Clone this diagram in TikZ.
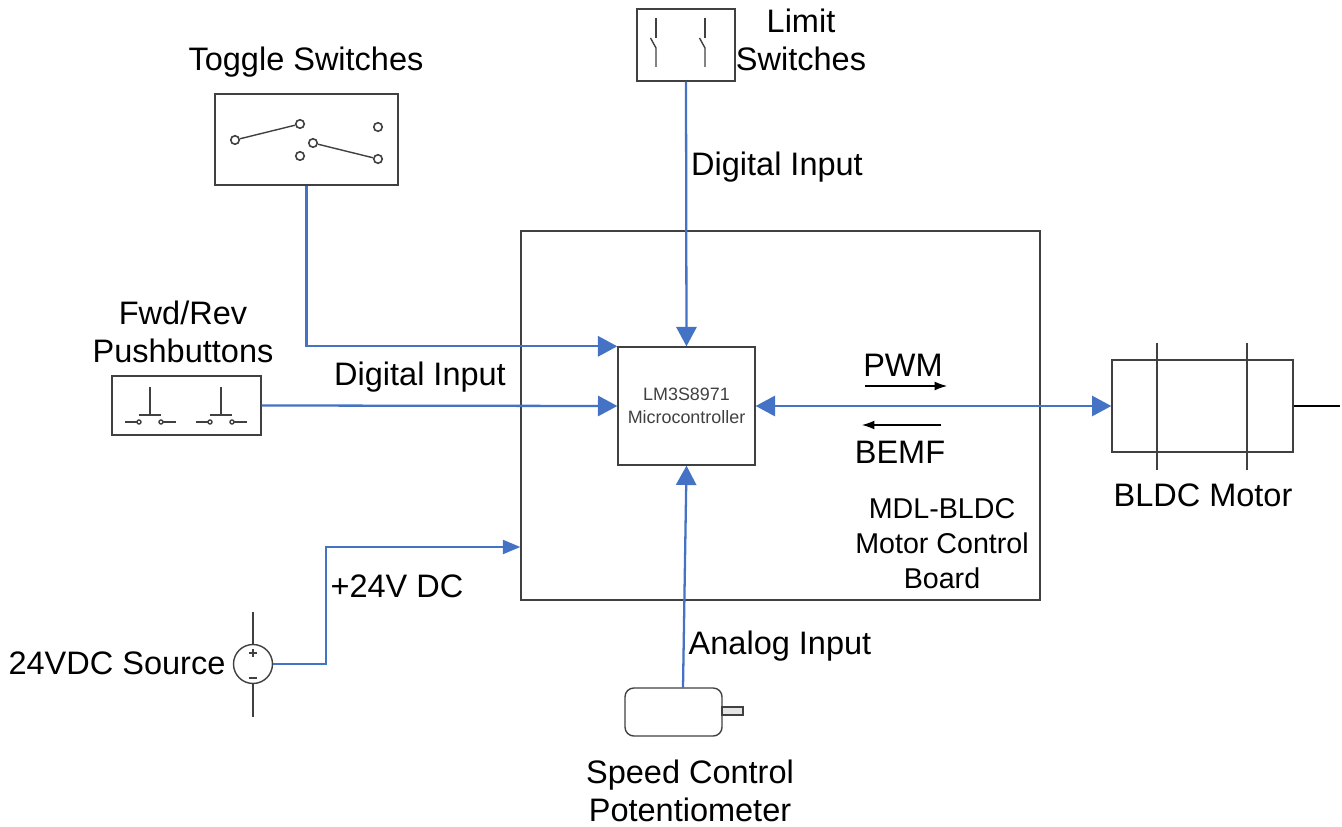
\documentclass[tikz,border=0pt]{standalone}
\usepackage{fontspec}
\setmainfont{Liberation Sans}
\usetikzlibrary{positioning,arrows.meta,calc}
\definecolor{linkblue}{HTML}{4472C4}
\definecolor{boxgray}{HTML}{404040}

\tikzset{
  boxnode/.style={draw=boxgray,line width=0.8pt,rectangle,inner sep=0pt},
  txt/.style={inner sep=0pt,align=center,font=\fontsize{18.5}{22}\selectfont},
  link/.style={draw=linkblue,line width=1.3pt,-{Triangle[length=11pt,width=11.5pt]}},
  wire/.style={draw=linkblue,line width=1.3pt},
  part/.style={draw=boxgray,line width=0.8pt},
  contact/.style={draw=boxgray,line width=0.9pt,circle,fill=white,inner sep=0pt,minimum size=0.17cm},
  tinyarrow/.style={line width=0.6pt,-{Latex[length=7pt,width=5pt]}}
}

\begin{document}
\begin{tikzpicture}[x=0.02cm,y=-0.02cm]
  \useasboundingbox (0,0) rectangle (1342,827);
  % blocks
  \node[boxnode,minimum width=10.38cm,minimum height=7.38cm] (board) at (780.5,415.5) {};
  \node[boxnode,minimum width=2.74cm,minimum height=2.36cm,align=center,font=\fontsize{10.2}{12.8}\selectfont,text=boxgray] (mcu) at (686.5,406) {LM3S8971\\Microcontroller};
  \node[boxnode,minimum width=3.66cm,minimum height=1.82cm] (toggle) at (306.5,139.5) {};
  \node[boxnode,minimum width=1.96cm,minimum height=1.44cm] (limit) at (686,45) {};
  \node[boxnode,minimum width=2.98cm,minimum height=1.18cm] (push) at (186.5,405.5) {};
  \node[boxnode,minimum width=3.62cm,minimum height=1.84cm] (motor) at (1202.5,406) {};
  \node[boxnode,minimum width=1.94cm,minimum height=0.96cm,rounded corners=5pt] (pot) at (673.5,712) {};
  \node[boxnode,circle,minimum size=0.78cm] (source) at (253,664) {};
  % toggle switch contacts
  \node[contact] (t1) at (235,140) {};
  \node[contact] (t2) at (300,124) {};
  \node[contact] (t3) at (378,127) {};
  \node[contact] (t4) at (313,143) {};
  \node[contact] (t5) at (300,156) {};
  \node[contact] (t6) at (378,159) {};
  \draw[part] (t1) -- (t2);
  \draw[part] (t4) -- (t6);
  % limit switches
  \foreach \x in {656,705} {
    \draw[part] (\x,18) -- (\x,38);
    \draw[part] (\x-5.5,38) -- (\x,48) -- (\x,67);
  }
  % pushbuttons
  \foreach \x in {150,221} {
    \draw[part] (\x,387) -- (\x,415);
    \draw[part] (\x-11,415) -- (\x+11,415);
    \draw[part] (\x-25,422) -- (\x-13,422);
    \draw[part] (\x+13,422) -- (\x+26,422);
    \draw[part,fill=white] (\x-11,422) circle (0.04cm);
    \draw[part,fill=white] (\x+11,422) circle (0.04cm);
  }
  % motor windings and shaft
  \draw[part] (1157,343) -- (1157,470);
  \draw[part] (1247,343) -- (1247,470);
  \coordinate (shaftend) at (1340,406);
  \draw[line width=0.7pt] (motor.east) -- (shaftend);
  % source leads and polarity
  \draw[part] (source.north) -- ++(0,-32);
  \draw[part] (source.south) -- ++(0,33);
  \draw[part] (253,649) -- (253,657) (249,653) -- (257,653);
  \draw[part] (249,678) -- (257,678);
  % potentiometer shaft
  \draw[part,fill=gray!20] (722,707) rectangle (743,715);
  % connectors
  \coordinate (potout) at (683,688);
  \draw[link] (toggle.south) |- (mcu.north west);
  \draw[link] (limit.south) -- (mcu.north);
  \draw[link] (push.east) -- (mcu.west);
  \draw[link] (potout) -- (mcu.south);
  \draw[link,{Triangle[length=11pt,width=11.5pt]}-{Triangle[length=11pt,width=11.5pt]}] (mcu.east) -- (motor.west);
  \draw[wire,-{Triangle[length=10pt,width=8pt]}] (source.east) -| (326,547) -- (board.west |- 0,547);
  % signal arrows
  \coordinate (pwma) at (865,386);
  \coordinate (pwmb) at (947,386);
  \coordinate (bemfa) at (941,425);
  \coordinate (bemfb) at (862,425);
  \draw[tinyarrow] (pwma) -- (pwmb);
  \draw[tinyarrow] (bemfa) -- (bemfb);
  % labels
  \node[txt] (toggletxt) at (306,62) {Toggle Switches};
  \node[txt] (limittxt) at (801,40) {Limit\\Switches};
  \node[txt] (limitin) at (777,167) {Digital Input};
  \node[txt] (pushtxt) at (183,332) {Fwd/Rev\\Pushbuttons};
  \node[txt] (pushin) at (420,377) {Digital Input};
  \node[txt] (pwr) at (397,586) {+24V DC};
  \node[txt] (sourcetxt) at (117,663) {24VDC Source};
  \node[txt] (potin) at (780,646) {Analog Input};
  \node[txt] (pottxt) at (690,791) {Speed Control\\Potentiometer};
  \node[txt] (pwm) at (903,365) {PWM};
  \node[txt] (bemf) at (900,452) {BEMF};
  \node[txt,font=\fontsize{16.3}{20}\selectfont] (boardtxt) at (942,544) {MDL-BLDC\\Motor Control\\Board};
  \node[txt] (motortxt) at (1203,495) {BLDC Motor};
\end{tikzpicture}
\end{document}
